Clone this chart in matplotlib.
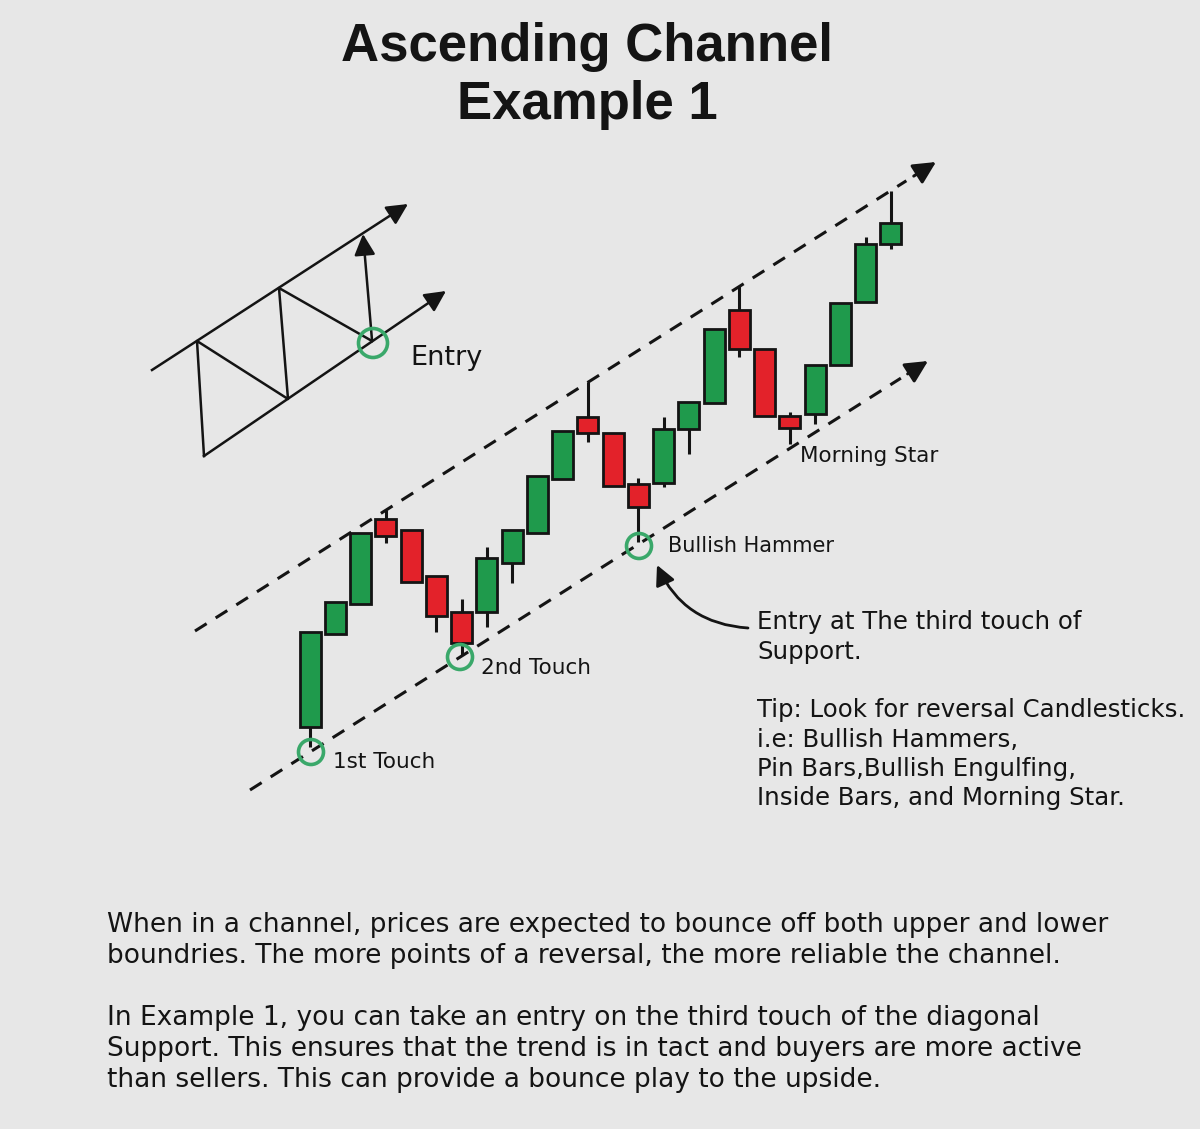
import matplotlib
matplotlib.use("Agg")
import matplotlib.pyplot as plt
from matplotlib.patches import Rectangle, Circle

# candle data (price units, one candle per session)
opens = [402, 495, 525, 610, 599, 553, 517, 517, 566, 596, 650, 712,
         696, 645, 646, 700, 726, 819, 780, 713, 715, 764, 827, 885]
highs = [497, 527, 596, 619, 599, 553, 530, 582, 599, 653, 698, 747,
         696, 651, 712, 727, 800, 843, 780, 717, 764, 826, 892, 938]
lows = [382, 495, 525, 586, 547, 497, 474, 502, 546, 596, 650, 687,
        643, 587, 642, 675, 726, 772, 713, 685, 705, 764, 827, 880]
closes = [497, 527, 596, 593, 547, 513, 486, 571, 599, 653, 698, 696,
          643, 622, 700, 727, 800, 780, 713, 701, 764, 826, 885, 906]

# channel boundaries (start / arrow tip)
upper_x = [195, 936]
upper_y = [498, 967]
lower_x = [250, 928]
lower_y = [339, 768]

# touches of support
touch_x = [311, 460, 639]
touch_y = [377, 472, 583]

# small schematic channel
sk_upper_x = [152, 408]
sk_upper_y = [759, 925]
sk_lower_x = [204, 446]
sk_lower_y = [673, 838]
sk_zig_x = [204, 197, 288, 279, 372]
sk_zig_y = [673, 788, 730, 841, 788]

GREEN = "#1f9a4c"
RED = "#e3222a"
RING = "#3aa86a"
INK = "#141414"
BG = "#e7e7e7"

X0 = 310      # first candle centre
STEP = 25.26  # candle spacing
W = 21        # body width

fig = plt.figure(figsize=(12, 11.29), dpi=100, facecolor=BG)
ax = fig.add_axes([0, 0, 1, 1])
ax.set_facecolor(BG)
ax.set_xlim(0, 1200)
ax.set_ylim(0, 1129)
ax.axis("off")

body_font = "DejaVu Sans"

# title
ax.text(587, 1082, "Ascending Channel", ha="center", va="center", fontsize=38,
        fontweight="bold", family="Liberation Sans", color=INK)
ax.text(587, 1024, "Example 1", ha="center", va="center", fontsize=38,
        fontweight="bold", family="Liberation Sans", color=INK)


def arrow_head(x, y, lw, ms):
    # solid head at the end of a line
    dx = x[1] - x[0]
    dy = y[1] - y[0]
    f = 0.97
    ax.annotate("", xy=(x[1], y[1]), xytext=(x[0] + dx * f, y[0] + dy * f),
                arrowprops=dict(arrowstyle="-|>", color=INK, lw=lw,
                                mutation_scale=ms, shrinkA=0, shrinkB=0))


# dashed channel
for xs, ys in [(upper_x, upper_y), (lower_x, lower_y)]:
    f = 0.96
    ax.plot([xs[0], xs[0] + (xs[1] - xs[0]) * f],
            [ys[0], ys[0] + (ys[1] - ys[0]) * f],
            color=INK, lw=2.2, ls=(0, (4.5, 3.5)), zorder=1)
    arrow_head(xs, ys, 2.2, 34)

# candles
for i in range(len(opens)):
    x = X0 + i * STEP
    o, h, l, c = opens[i], highs[i], lows[i], closes[i]
    col = GREEN if c >= o else RED
    ax.plot([x, x], [l, h], color=INK, lw=2.2, zorder=2, solid_capstyle="butt")
    ax.add_patch(Rectangle((x - W / 2, min(o, c)), W, abs(c - o),
                           facecolor=col, edgecolor=INK, lw=2.0, zorder=3))

# touch rings
for x, y in zip(touch_x, touch_y):
    ax.add_patch(Circle((x, y), 12.5, fill=False, edgecolor=RING, lw=2.6, zorder=4))

# schematic
for xs, ys in [(sk_upper_x, sk_upper_y), (sk_lower_x, sk_lower_y)]:
    ax.plot([xs[0], xs[0] + (xs[1] - xs[0]) * 0.95],
            [ys[0], ys[0] + (ys[1] - ys[0]) * 0.95], color=INK, lw=1.8)
    arrow_head(xs, ys, 1.8, 32)
ax.plot(sk_zig_x, sk_zig_y, color=INK, lw=1.8)
ax.annotate("", xy=(363, 895), xytext=(372, 789),
            arrowprops=dict(arrowstyle="-|>", color=INK, lw=1.8,
                            mutation_scale=32, shrinkA=0, shrinkB=0))
ax.add_patch(Circle((373, 786), 14.5, fill=False, edgecolor=RING, lw=2.6, zorder=4))

# labels
ax.text(410, 771, "Entry", fontsize=19.5, family=body_font, color=INK, va="center")
ax.text(333, 367, "1st Touch", fontsize=15.5, family=body_font, color=INK, va="center")
ax.text(481, 461, "2nd Touch", fontsize=15.5, family=body_font, color=INK, va="center")
ax.text(668, 583, "Bullish Hammer", fontsize=15, family=body_font, color=INK, va="center")
ax.text(800, 673, "Morning Star", fontsize=15.5, family=body_font, color=INK, va="center")

# curved pointer to the third touch
ax.annotate("", xy=(657, 564), xytext=(748, 501),
            arrowprops=dict(arrowstyle="-|>", color=INK, lw=2.0, mutation_scale=30,
                            connectionstyle="arc3,rad=-0.3", shrinkA=0, shrinkB=0))

side_lines = ["Entry at The third touch of", "Support.", "",
              "Tip: Look for reversal Candlesticks.", "i.e: Bullish Hammers,",
              "Pin Bars,Bullish Engulfing,", "Inside Bars, and Morning Star."]
side_y = [507, 477, 0, 419, 389, 360, 331]
for s, y in zip(side_lines, side_y):
    if s:
        ax.text(757, y, s, fontsize=17.6, family=body_font, color=INK, va="center")

bottom_lines = ["When in a channel, prices are expected to bounce off both upper and lower",
                "boundries. The more points of a reversal, the more reliable the channel.",
                "In Example 1, you can take an entry on the third touch of the diagonal",
                "Support. This ensures that the trend is in tact and buyers are more active",
                "than sellers. This can provide a bounce play to the upside."]
bottom_y = [204, 173, 111, 80, 49]
for s, y in zip(bottom_lines, bottom_y):
    ax.text(107, y, s, fontsize=19.0, family=body_font, color=INK, va="center")

fig.savefig("out.png", dpi=100, facecolor=BG)
